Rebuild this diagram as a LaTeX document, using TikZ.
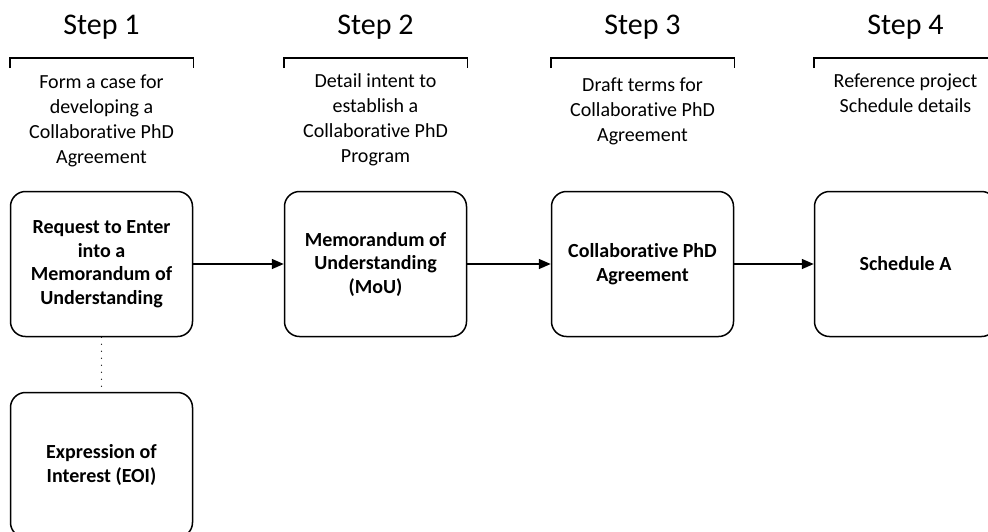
\documentclass[tikz,border=0pt]{standalone}
\usepackage{fontspec}
\setmainfont{Carlito}[Ligatures=NoCommon]
\usetikzlibrary{arrows.meta}

\begin{document}
\begin{tikzpicture}[x=1pt, y=-1pt,
    box/.style={draw, rounded corners=15pt, line width=1.5pt, minimum width=182pt, minimum height=145pt, align=center, font=\fontsize{20}{23.5}\selectfont\bfseries},
    desc/.style={align=center, anchor=base, inner sep=0pt, font=\fontsize{20}{25}\selectfont},
    steptitle/.style={anchor=base, inner sep=0pt, font=\fontsize{30}{36}\selectfont},
    bracket/.style={line width=1.5pt},
    flow/.style={-{Triangle[length=12pt, width=10pt]}, line width=1.5pt}]
    \useasboundingbox (0, 0) rectangle (988, 531);
    \clip (0, 0) rectangle (988, 531);

    % Step titles
    \node[steptitle] (t1) at (101.5, 34) {Step 1};
    \node[steptitle] (t2) at (375.5, 34) {Step 2};
    \node[steptitle] (t3) at (642.5, 34) {Step 3};
    \node[steptitle] (t4) at (905.5, 34) {Step 4};

    % Descriptions (placed by the baseline of their last line)
    \node[desc] (d1) at (101.5, 163) {Form a case for\\developing a\\Collaborative PhD\\Agreement};
    \node[desc] (d2) at (375.5, 162) {Detail intent to\\establish a\\Collaborative PhD\\Program};
    \node[desc] (d3) at (642.5, 141) {Draft terms for\\Collaborative PhD\\Agreement};
    \node[desc] (d4) at (905.5, 112) {Reference project\\Schedule details};

    % Boxes
    \node[box] (b1) at (101.5, 264) {Request to Enter\\into a\\Memorandum of\\Understanding};
    \node[box] (b2) at (375.5, 264) {Memorandum of\\Understanding\\(MoU)};
    \node[box] (b3) at (642.5, 264) {Collaborative PhD\\Agreement};
    \node[box] (b4) at (905.5, 264) {Schedule A};
    \node[box] (eoi) at (101.5, 465) {Expression of\\Interest (EOI)};

    % Brackets
    \draw[bracket] (b1.west |- 0,68) -- (b1.west |- 0,58) -- (b1.east |- 0,58) -- (b1.east |- 0,68);
    \draw[bracket] (b2.west |- 0,68) -- (b2.west |- 0,58) -- (b2.east |- 0,58) -- (b2.east |- 0,68);
    \draw[bracket] (b3.west |- 0,68) -- (b3.west |- 0,58) -- (b3.east |- 0,58) -- (b3.east |- 0,68);
    \draw[bracket] (b4.west |- 0,68) -- (b4.west |- 0,58) -- (b4.east |- 0,58) -- (b4.east |- 0,68);

    % Connectors
    \draw[flow] (b1) -- (b2);
    \draw[flow] (b2) -- (b3);
    \draw[flow] (b3) -- (b4);
    \draw[line width=1.2pt, line cap=round, dash pattern=on 0pt off 7pt] (b1) -- (eoi);
\end{tikzpicture}
\end{document}
